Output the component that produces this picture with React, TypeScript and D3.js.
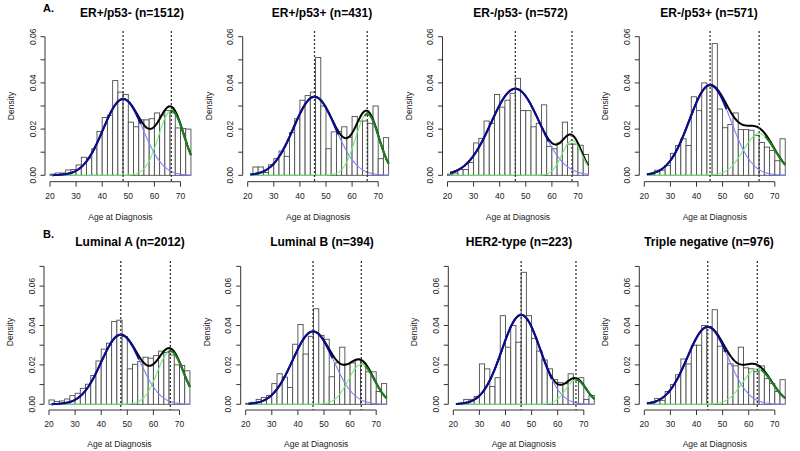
import React from 'react';
import * as d3 from 'd3';

// histogram bins: 2-year bins from 20 to 74
const ageBins = d3.range(20, 74, 2);
const xTicks = [20, 30, 40, 50, 60, 70];

const panelTitles = [
  'ER+/p53- (n=1512)',
  'ER+/p53+ (n=431)',
  'ER-/p53- (n=572)',
  'ER-/p53+ (n=571)',
  'Luminal A (n=2012)',
  'Luminal B (n=394)',
  'HER2-type (n=223)',
  'Triple negative (n=976)',
];
const rowLabels = ['A.', 'B.'];

// density per bin
const erPosP53Neg = [0.0005, 0.001, 0.001, 0.0023, 0.0025, 0.0045, 0.0078, 0.0075, 0.0115, 0.019, 0.025, 0.026, 0.041, 0.036, 0.035, 0.023, 0.021, 0.024, 0.024, 0.0245, 0.027, 0.026, 0.028, 0.027, 0.0205, 0.0203, 0.02];
const erPosP53Pos = [0, 0.0036, 0.0036, 0.0012, 0.0046, 0.0072, 0.0105, 0.0082, 0.0185, 0.0245, 0.0325, 0.0345, 0.036, 0.051, 0.03, 0.0115, 0.0188, 0.019, 0.021, 0.0165, 0.0255, 0.0235, 0.0235, 0.0225, 0.03, 0.0072, 0.0163];
const erNegP53Neg = [0.0005, 0.001, 0.0025, 0.0025, 0.0055, 0.014, 0.016, 0.0235, 0.0225, 0.035, 0.0295, 0.0325, 0.0355, 0.042, 0.028, 0.028, 0.021, 0.0225, 0.0305, 0.0125, 0.0115, 0.014, 0.023, 0.0135, 0.0135, 0.013, 0.009];
const erNegP53Pos = [0, 0.0005, 0.0022, 0.0022, 0.0042, 0.0095, 0.0129, 0.0158, 0.0129, 0.034, 0.028, 0.04, 0.039, 0.057, 0.0287, 0.0206, 0.022, 0.027, 0.0198, 0.0198, 0.0195, 0.0173, 0.0142, 0.0122, 0.0107, 0.0063, 0.0158];
const luminalA = [0.0022, 0.0014, 0.0017, 0.0027, 0.0044, 0.0056, 0.0081, 0.0102, 0.0146, 0.022, 0.028, 0.031, 0.042, 0.0427, 0.0344, 0.018, 0.0203, 0.0217, 0.0239, 0.0234, 0.0247, 0.027, 0.0263, 0.025, 0.02, 0.0197, 0.017];
const luminalB = [0.0005, 0.001, 0.0025, 0.0035, 0.0045, 0.0105, 0.0155, 0.0138, 0.0085, 0.0305, 0.0405, 0.0255, 0.0345, 0.0485, 0.035, 0.033, 0.014, 0.021, 0.029, 0.0205, 0.021, 0.0225, 0.0205, 0.0165, 0.0165, 0.0065, 0.0105];
const her2Type = [0, 0.0005, 0.0025, 0.0025, 0.004, 0.0205, 0.018, 0.009, 0.0135, 0.045, 0.029, 0.04, 0.0315, 0.067, 0.045, 0.0335, 0.027, 0.0225, 0.018, 0.0125, 0.011, 0.0105, 0.0155, 0.0125, 0.0135, 0.0025, 0.0045];
const tripleNeg = [0, 0.0005, 0.003, 0.002, 0.0065, 0.01, 0.015, 0.023, 0.0205, 0.03, 0.03, 0.04, 0.0395, 0.048, 0.0295, 0.027, 0.0205, 0.0195, 0.029, 0.0185, 0.018, 0.0165, 0.0195, 0.013, 0.0105, 0.0065, 0.0125];

const panelDensities = [erPosP53Neg, erPosP53Pos, erNegP53Neg, erNegP53Pos, luminalA, luminalB, her2Type, tripleNeg];

// two-component normal mixture fits (younger, older)
const compMeans = [[48, 66.5], [45.6, 65.8], [46, 67.7], [45.2, 64], [47.5, 66.5], [45.8, 64.3], [46, 67], [44.3, 63.3]];
const compSds = [[7.6, 4.9], [8, 4.5], [9.3, 3.8], [8, 6], [7.5, 5], [7.8, 5], [7.4, 4], [7.8, 5.7]];
const compWeights = [[0.629, 0.344], [0.682, 0.299], [0.874, 0.143], [0.782, 0.271], [0.664, 0.338], [0.723, 0.254], [0.842, 0.125], [0.768, 0.257]];

const W = 800;
const H = 451;
const FONT = '"Liberation Sans", Arial, sans-serif';

// pixel of age 20 in each panel
const panelX20 = [50, 247.7, 447.5, 644.3, 49, 245.7, 453.3, 644.3];
const titleX = [132, 322, 520.5, 709, 130, 322, 519, 709];
const pxPerYear = 2.61;

const rows = [
  { y0: 175.3, unit: 2310, yMax: 0.06, axisY: 181.7, top: 31, titleY: 17, letterY: 11.5, xlabY: 219.5, densY: 106 },
  { y0: 404.3, unit: 1970, yMax: 0.07, axisY: 410, top: 261, titleY: 245.7, letterY: 238, xlabY: 447, densY: 332 },
];

const dnorm = (a: number, m: number, s: number) =>
  Math.exp(-((a - m) * (a - m)) / (2 * s * s)) / (s * Math.sqrt(2 * Math.PI));

const grid = d3.range(21, 74.001, 0.25);

type Pt = [number, number, boolean];

function Panel({ i }: { i: number }) {
  const row = rows[Math.floor(i / 4)];
  const x20 = panelX20[i];
  const x = d3.scaleLinear().domain([20, 70]).range([x20, x20 + 50 * pxPerYear]);
  const y = d3.scaleLinear().domain([0, row.yMax]).range([row.y0, row.y0 - row.yMax * row.unit]);
  const axisX = x20 - 5;
  const yTicks = d3.range(0, row.yMax + 0.0001, 0.01);
  const dens = panelDensities[i];
  const mu = compMeans[i];
  const sd = compSds[i];
  const w = compWeights[i];

  const line = d3
    .line<Pt>()
    .x((d) => x(d[0]))
    .y((d) => y(d[1]));
  const lineOn = d3
    .line<Pt>()
    .defined((d) => d[2])
    .x((d) => x(d[0]))
    .y((d) => y(d[1]));

  const v1 = grid.map((a) => w[0] * dnorm(a, mu[0], sd[0]));
  const v2 = grid.map((a) => w[1] * dnorm(a, mu[1], sd[1]));
  const mix: Pt[] = grid.map((a, k) => [a, v1[k] + v2[k], true]);
  // component curves; flag marks where the component carries the mixture
  const c1: Pt[] = grid.map((a, k) => [a, v1[k], v1[k] / (v1[k] + v2[k]) > 0.93]);
  const c2: Pt[] = grid.map((a, k) => [a, v2[k], v2[k] / (v1[k] + v2[k]) > 0.93]);

  return (
    <g>
      {/* histogram */}
      {ageBins.map((b, k) => (
        <rect
          key={k}
          x={x(b)}
          y={y(dens[k])}
          width={x(b + 2) - x(b)}
          height={y(0) - y(dens[k])}
          fill="#fff"
          stroke="#4d4d4d"
          strokeWidth={0.9}
        />
      ))}

      {/* mixture and components */}
      <path d={line(mix) || ''} fill="none" stroke="#000" strokeWidth={2} />
      <path d={line(c1) || ''} fill="none" stroke="#7f7fff" strokeWidth={1.1} />
      <path d={line(c2) || ''} fill="none" stroke="#6fef6f" strokeWidth={1.1} />
      <path d={lineOn(c1) || ''} fill="none" stroke="#0a0a96" strokeWidth={2} />
      <path d={lineOn(c2) || ''} fill="none" stroke="#1b7f1b" strokeWidth={2} />

      {/* component means */}
      {mu.map((m, k) => (
        <line key={k} x1={x(m)} x2={x(m)} y1={row.top} y2={row.axisY} stroke="#333" strokeWidth={1.3} strokeDasharray="2,2" />
      ))}

      {/* x axis */}
      <line x1={x(20)} x2={x(70)} y1={row.axisY} y2={row.axisY} stroke="#333" />
      {xTicks.map((t) => (
        <g key={t}>
          <line x1={x(t)} x2={x(t)} y1={row.axisY} y2={row.axisY + 5} stroke="#333" />
          <text x={x(t)} y={row.axisY + 17} textAnchor="middle" fontSize={8.5} fill="#222" fontFamily={FONT}>
            {t}
          </text>
        </g>
      ))}
      <text x={x(47)} y={row.xlabY} textAnchor="middle" fontSize={8.5} fill="#222" fontFamily={FONT}>
        Age at Diagnosis
      </text>

      {/* y axis */}
      <line x1={axisX} x2={axisX} y1={y(0)} y2={y(row.yMax)} stroke="#333" />
      {yTicks.map((t, k) => (
        <g key={k}>
          <line x1={axisX - 4.5} x2={axisX} y1={y(t)} y2={y(t)} stroke="#333" />
          {k % 2 === 0 && (
            <text
              transform={`translate(${axisX - 9.5},${y(t)}) rotate(-90)`}
              textAnchor="middle"
              fontSize={8.5}
              fill="#222"
              fontFamily={FONT}
            >
              {t.toFixed(2)}
            </text>
          )}
        </g>
      ))}
      <text
        transform={`translate(${axisX - 31},${row.densY}) rotate(-90)`}
        textAnchor="middle"
        fontSize={8.5}
        fill="#222"
        fontFamily={FONT}
      >
        Density
      </text>

      {/* title */}
      <text x={titleX[i]} y={row.titleY} textAnchor="middle" fontSize={12} fontWeight="bold" fontFamily={FONT}>
        {panelTitles[i]}
      </text>
      {i % 4 === 0 && (
        <text x={43} y={row.letterY} fontSize={11} fontWeight="bold" fontFamily={FONT}>
          {rowLabels[i / 4]}
        </text>
      )}
    </g>
  );
}

export default function App() {
  return (
    <svg
      width={W}
      height={H}
      viewBox={`0 0 ${W} ${H}`}
      style={{ position: 'absolute', left: 0, top: 0, background: '#fff' }}
    >
      <rect width={W} height={H} fill="#fff" />
      {panelTitles.map((_, i) => (
        <Panel key={i} i={i} />
      ))}
    </svg>
  );
}
